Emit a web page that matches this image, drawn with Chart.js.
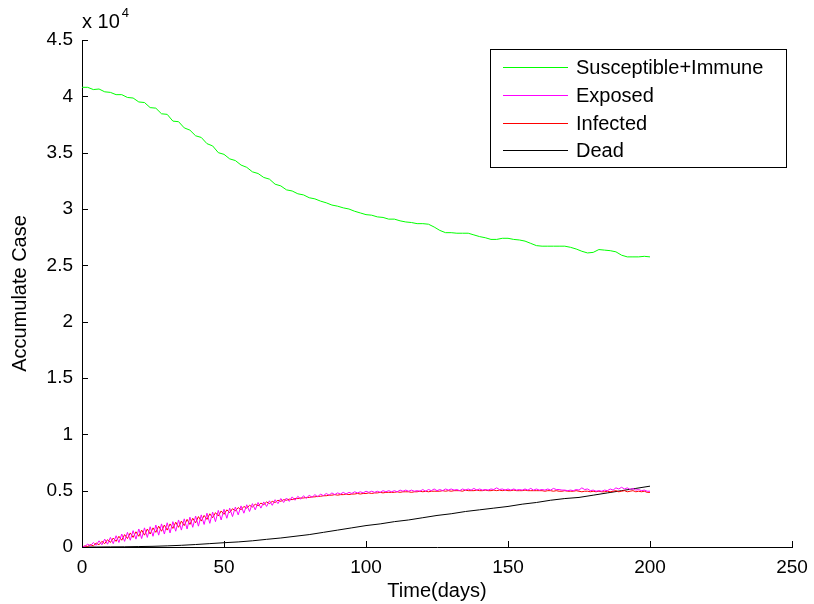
<!DOCTYPE html>
<html>
<head>
<meta charset="utf-8">
<script src="https://cdn.jsdelivr.net/npm/chart.js@4/dist/chart.umd.min.js"></script>
<style>
  html, body { margin: 0; padding: 0; background: #fff; }
  canvas { display: block; }
</style>
</head>
<body>
<canvas id="chart" width="814" height="604"></canvas>
<script>
// Series values (cases, day on x)

// every 2 days, day 0..200
const susceptible = [
    40800, 40800, 40600, 40650, 40400, 40350, 40150, 40150, 39900, 39850,
    39500, 39450, 39000, 38950, 38450, 38400, 37800, 37750, 37200, 37000,
    36500, 36350, 35800, 35600, 35000, 34850, 34450, 34300, 33900, 33700,
    33300, 33150, 32800, 32650, 32200, 32050, 31700, 31600, 31350, 31250,
    31000, 30900, 30700, 30550, 30350, 30250, 30100, 30000, 29800, 29650,
    29500, 29450, 29300, 29250, 29100, 29100, 28950, 28850, 28800, 28700,
    28700, 28650, 28400, 28100, 27900, 27900, 27850, 27850, 27850, 27700,
    27550, 27450, 27300, 27300, 27400, 27400, 27300, 27250, 27150, 26950,
    26750, 26700, 26700, 26700, 26700, 26700, 26600, 26450, 26250, 26100,
    26150, 26400, 26350, 26300, 26200, 25900, 25750, 25750, 25750, 25800,
    25750];

// every 5 days, day 0..200
const dead = [0, 0, 10, 20, 40, 60, 100, 150, 220, 300, 380, 450, 550, 680, 800, 950, 1100, 1300, 1500, 1700, 1900,
    2050, 2250, 2400, 2600, 2800, 2950, 3150, 3300, 3450, 3600, 3800, 3950, 4150, 4300, 4400, 4600, 4800, 5000, 5200, 5400];

// daily values, day 0..200
const exposed = [
    0, 50, 250, 100, 400, 150, 550, 200, 700, 250,
    850, 300, 1000, 400, 1150, 500, 1300, 600, 1450, 700,
    1600, 750, 1700, 850, 1800, 950, 1950, 1050, 2050, 1150,
    2150, 1250, 2250, 1400, 2400, 1500, 2500, 1600, 2650, 1750,
    2750, 1850, 2850, 2000, 3000, 2100, 3100, 2250, 3250, 2400,
    3350, 2550, 3450, 2700, 3550, 2850, 3650, 3000, 3750, 3150,
    3850, 3300, 3950, 3450, 4000, 3600, 4100, 3700, 4200, 3850,
    4300, 3950, 4350, 4050, 4450, 4150, 4500, 4250, 4550, 4300,
    4600, 4400, 4650, 4450, 4700, 4550, 4750, 4600, 4800, 4650,
    4800, 4700, 4850, 4700, 4850, 4750, 4900, 4800, 4900, 4800,
    4950, 4850, 4950, 4850, 4950, 4850, 5000, 4900, 5000, 4900,
    5000, 4900, 5050, 4950, 5050, 4950, 5050, 4950, 5000, 4950,
    5100, 4950, 5100, 5000, 5150, 5000, 5100, 5000, 5150, 5050,
    5150, 5050, 5100, 5000, 5150, 5050, 5150, 5050, 5200, 5050,
    5150, 5050, 5100, 5050, 5150, 5100, 5250, 5100, 5150, 5050,
    5150, 5050, 5150, 5050, 5100, 5050, 5150, 5050, 5200, 5050,
    5150, 5050, 5100, 5050, 5150, 5050, 5200, 5100, 5100, 5050,
    5050, 5000, 5050, 5000, 5100, 5050, 5250, 5100, 5150, 5000,
    5050, 4950, 5000, 4950, 5050, 5000, 5150, 5050, 5250, 5150,
    5300, 5150, 5250, 5100, 5200, 5050, 5100, 5000, 5050, 4950,
    4950];

const infected = [
    0, 100, 50, 200, 100, 350, 200, 500, 300, 650,
    400, 800, 500, 950, 600, 1100, 750, 1250, 850, 1350,
    950, 1500, 1050, 1600, 1150, 1700, 1300, 1850, 1400, 1950,
    1500, 2050, 1650, 2200, 1750, 2300, 1900, 2450, 2000, 2550,
    2150, 2700, 2300, 2800, 2450, 2950, 2600, 3050, 2750, 3200,
    2900, 3300, 3050, 3400, 3200, 3500, 3300, 3600, 3450, 3700,
    3550, 3800, 3650, 3900, 3750, 4000, 3850, 4050, 3950, 4150,
    4050, 4200, 4150, 4250, 4200, 4300, 4300, 4350, 4350, 4400,
    4400, 4450, 4450, 4500, 4500, 4550, 4550, 4600, 4600, 4650,
    4600, 4650, 4650, 4700, 4650, 4700, 4700, 4750, 4700, 4750,
    4750, 4800, 4750, 4800, 4800, 4850, 4800, 4850, 4850, 4850,
    4850, 4900, 4850, 4900, 4900, 4900, 4850, 4900, 4900, 4950,
    4900, 4950, 4900, 4950, 4950, 4950, 4950, 5000, 4950, 5000,
    4950, 5000, 5000, 5000, 4950, 5050, 5000, 5000, 5000, 5050,
    5000, 5000, 5050, 5000, 5000, 5050, 5000, 5050, 5000, 5050,
    5000, 5000, 5050, 5000, 5000, 5000, 5050, 5000, 5000, 5000,
    5000, 5000, 5000, 4950, 5000, 5000, 4950, 5000, 4950, 4950,
    5000, 4950, 4950, 4950, 5000, 4950, 4900, 4950, 4950, 4900,
    4950, 4900, 4950, 4900, 4900, 4950, 4900, 4950, 5000, 4900,
    4950, 5000, 4900, 4950, 5000, 4900, 4950, 4900, 4950, 4850,
    4850];

const xTicks = [0, 50, 100, 150, 200, 250];
const yScaleFactor = 1e4;
const seriesColors = ['#00ff00', '#ff00ff', '#ff0000', '#000000'];

const FONT = 'Arial, "Liberation Sans", sans-serif';

// sampling grids for the arrays above
const twoDayDays = susceptible.map((_, i) => i * 2);
const fiveDayDays = dead.map((_, i) => i * 5);
const dailyDays = exposed.map((_, d) => d);
const pairs = (xs, ys) => xs.map((x, i) => ({ x, y: ys[i] }));

const line = (label, xs, ys, color) => ({
    label,
    data: pairs(xs, ys),
    borderColor: color,
    backgroundColor: color,
    borderWidth: 1,
    pointRadius: 0,
    tension: 0,
    fill: false
});

// MATLAB-style inward ticks, exponent label and boxed legend
const matlabDecor = {
    id: 'matlabDecor',
    afterDraw(chart) {
        const { ctx, chartArea, scales } = chart;
        const len = 6;
        ctx.save();
        ctx.strokeStyle = '#000';
        ctx.lineWidth = 1;
        ctx.beginPath();
        scales.x.ticks.forEach(t => {
            const px = Math.round(scales.x.getPixelForValue(t.value)) + 0.5;
            ctx.moveTo(px, chartArea.bottom);
            ctx.lineTo(px, chartArea.bottom - len);
        });
        scales.y.ticks.forEach(t => {
            const py = Math.round(scales.y.getPixelForValue(t.value)) + 0.5;
            ctx.moveTo(chartArea.left, py);
            ctx.lineTo(chartArea.left + len, py);
        });
        ctx.stroke();

        // exponent
        ctx.fillStyle = '#000';
        ctx.textBaseline = 'alphabetic';
        ctx.textAlign = 'left';
        ctx.font = '20px ' + FONT;
        ctx.fillText('x 10', chartArea.left, chartArea.top - 12);
        const w = ctx.measureText('x 10').width;
        ctx.font = '13px ' + FONT;
        ctx.fillText('4', chartArea.left + w + 2, chartArea.top - 23);

        // legend
        const box = { x: 490.5, y: 49.5, w: 296, h: 118 };
        ctx.strokeStyle = '#000';
        ctx.strokeRect(box.x, box.y, box.w, box.h);
        ctx.font = '20px ' + FONT;
        ctx.textBaseline = 'middle';
        chart.data.datasets.forEach((ds, i) => {
            const y = Math.round(67 + i * 27.8) + 0.5;
            ctx.strokeStyle = seriesColors[i];
            ctx.lineWidth = 1.2;
            ctx.beginPath();
            ctx.moveTo(503, y);
            ctx.lineTo(568, y);
            ctx.stroke();
            ctx.fillStyle = '#000';
            ctx.fillText(ds.label, 576, y + 1);
        });
        ctx.restore();
    }
};

new Chart(document.getElementById('chart'), {
    type: 'line',
    data: {
        datasets: [
            line('Susceptible+Immune', twoDayDays, susceptible, seriesColors[0]),
            line('Exposed', dailyDays, exposed, seriesColors[1]),
            line('Infected', dailyDays, infected, seriesColors[2]),
            line('Dead', fiveDayDays, dead, seriesColors[3])
        ]
    },
    options: {
        responsive: false,
        animation: false,
        layout: { padding: { left: 0, top: 40, right: 22, bottom: 0 } },
        plugins: {
            legend: { display: false },
            tooltip: { enabled: false }
        },
        scales: {
            x: {
                type: 'linear',
                min: 0,
                max: 250,
                afterBuildTicks: s => { s.ticks = xTicks.map(v => ({ value: v })); },
                afterFit: s => { s.height = 57; },
                grid: { display: false },
                border: { display: true, color: '#000', width: 1 },
                ticks: {
                    color: '#000',
                    font: { family: FONT, size: 19 },
                    padding: 1,
                    maxRotation: 0
                },
                title: {
                    display: true,
                    text: 'Time(days)',
                    color: '#000',
                    font: { family: FONT, size: 20 },
                    padding: { top: 0, bottom: 1 }
                }
            },
            y: {
                min: 0,
                max: 45000,
                afterFit: s => { s.width = 82; },
                grid: { display: false },
                border: { display: true, color: '#000', width: 1 },
                ticks: {
                    stepSize: 5000,
                    color: '#000',
                    font: { family: FONT, size: 19 },
                    padding: 1,
                    callback: v => String(v / yScaleFactor)
                },
                title: {
                    display: true,
                    text: 'Accumulate Case',
                    color: '#000',
                    font: { family: FONT, size: 20 },
                    padding: { top: 8, bottom: 0 }
                }
            }
        }
    },
    plugins: [matlabDecor]
});
</script>
</body>
</html>
